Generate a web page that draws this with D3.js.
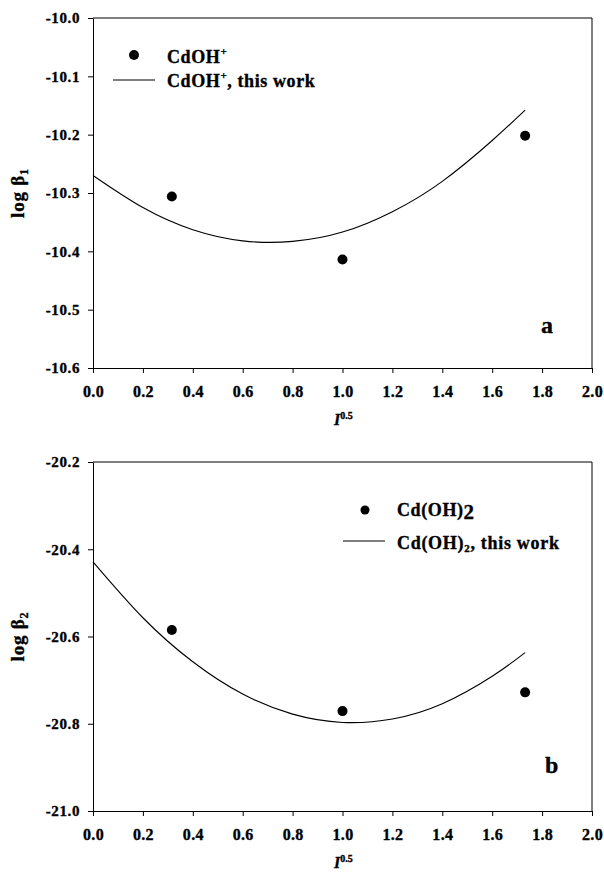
<!DOCTYPE html>
<meta charset="utf-8">
<script src="https://d3js.org/d3.v7.min.js"></script>
<style>
  body { margin: 0; background: #fff; }
  text { font-family: "Liberation Serif", "Times New Roman", serif; font-weight: bold; fill: #000;
         stroke: #000; stroke-width: 0.35px; }
</style>
<div id="viz"></div>
<script>

// data
var xTicks = [0.0, 0.2, 0.4, 0.6, 0.8, 1.0, 1.2, 1.4, 1.6, 1.8, 2.0];
var sqrtI = [0.316, 1.0, 1.732];
var beta1Lit = [-10.306, -10.414, -10.202];
var beta2Lit = [-20.585, -20.771, -20.728];

var fitX = [0.0, 0.2, 0.4, 0.6, 0.8, 1.0, 1.2, 1.4, 1.6, 1.732];
var beta1Fit = [-10.270, -10.325, -10.363, -10.382, -10.383, -10.367, -10.332, -10.280, -10.210, -10.158];
var beta2Fit = [-20.429, -20.557, -20.658, -20.732, -20.778, -20.797, -20.789, -20.754, -20.691, -20.637];

var beta1Ticks = [-10.6, -10.5, -10.4, -10.3, -10.2, -10.1, -10.0];
var beta2Ticks = [-21.0, -20.8, -20.6, -20.4, -20.2];

var width = 604, height = 872;

var svg = d3.select("#viz")
  .append("svg")
    .attr("width", width)
    .attr("height", height);

function drawPanel(opt) {
  var x = d3.scaleLinear().domain([0, 2]).range([93, 592]);
  var y = d3.scaleLinear().domain(d3.extent(opt.yTicks)).range([opt.bottom, opt.top]);
  var g = svg.append("g");

  // frame (top and right)
  g.append("path")
    .attr("d", "M" + x(0) + "," + y.range()[1] + "H" + x(2) + "V" + y.range()[0])
    .attr("fill", "none")
    .attr("stroke", "#000")
    .attr("stroke-width", 1);

  // X axis
  var xa = g.append("g")
    .attr("transform", "translate(0," + opt.bottom + ")")
    .call(d3.axisBottom(x).tickValues(xTicks).tickSize(5).tickSizeOuter(0)
      .tickFormat(function (d) { return d.toFixed(1); }));
  xa.selectAll("text").attr("dy", null).attr("y", 29)
    .style("font-size", "16px").style("letter-spacing", "0.3px")
    .style("font-family", "Liberation Serif").style("font-weight", "bold");

  // Y axis
  var ya = g.append("g")
    .attr("transform", "translate(" + x(0) + ",0)")
    .call(d3.axisLeft(y).tickValues(opt.yTicks).tickSize(5).tickSizeOuter(0)
      .tickFormat(function (d) { return d.toFixed(1); }));
  ya.selectAll("text").attr("x", -13)
    .style("font-size", "15px").style("letter-spacing", "0.6px")
    .style("font-family", "Liberation Serif").style("font-weight", "bold");
  g.selectAll(".domain").attr("stroke", "#000");

  // x label
  var xl = g.append("text")
    .attr("x", 334)
    .attr("y", opt.bottom + 57)
    .style("font-size", "16px");
  xl.append("tspan").style("font-style", "italic").text("I");
  xl.append("tspan").attr("dy", -6).style("font-size", "10px").text("0.5");

  // y label
  var yl = g.append("text")
    .attr("transform", "translate(24," + ((opt.top + opt.bottom) / 2) + ") rotate(-90)")
    .attr("text-anchor", "middle")
    .style("font-size", "19px")
    .style("letter-spacing", "0.8px");
  yl.append("tspan").text("log \u03b2");
  yl.append("tspan").attr("dy", 4).style("font-size", "12px").text(opt.sub);

  // fitted curve
  g.append("path")
    .datum(fitX.map(function (d, i) { return [d, opt.fit[i]]; }))
    .attr("fill", "none")
    .attr("stroke", "#000")
    .attr("stroke-width", 1.1)
    .attr("d", d3.line()
      .x(function (d) { return x(d[0]); })
      .y(function (d) { return y(d[1]); })
      .curve(d3.curveNatural));

  // literature points
  g.append("g")
    .selectAll("circle")
    .data(sqrtI.map(function (d, i) { return [d, opt.lit[i]]; }))
    .join("circle")
      .attr("cx", function (d) { return x(d[0]); })
      .attr("cy", function (d) { return y(d[1]); })
      .attr("r", 5)
      .attr("fill", "#000");

  // panel letter
  g.append("text")
    .attr("x", opt.letterX)
    .attr("y", opt.letterY)
    .style("font-size", "24px")
    .text(opt.letter);

  return g;
}

var gA = drawPanel({ top: 18, bottom: 368, yTicks: beta1Ticks, lit: beta1Lit, fit: beta1Fit,
  sub: "1", letter: "a", letterX: 541, letterY: 333 });
var gB = drawPanel({ top: 462, bottom: 811, yTicks: beta2Ticks, lit: beta2Lit, fit: beta2Fit,
  sub: "2", letter: "b", letterX: 545, letterY: 773 });

// legend a
gA.append("circle").attr("cx", 134).attr("cy", 55).attr("r", 5).attr("fill", "#000");
gA.append("line").attr("x1", 113).attr("x2", 155).attr("y1", 80).attr("y2", 80)
  .attr("stroke", "#000").attr("stroke-width", 1.1);
var la1 = gA.append("text").attr("x", 167).attr("y", 63)
  .style("font-size", "18px").style("letter-spacing", "0.6px");
la1.append("tspan").text("CdOH");
la1.append("tspan").attr("dy", -8).style("font-size", "11px").text("+");
var la2 = gA.append("text").attr("x", 167).attr("y", 87)
  .style("font-size", "18px").style("letter-spacing", "0.6px");
la2.append("tspan").text("CdOH");
la2.append("tspan").attr("dy", -8).style("font-size", "11px").text("+");
la2.append("tspan").attr("dy", 8).text(", this work");

// legend b
gB.append("circle").attr("cx", 365).attr("cy", 510).attr("r", 4.5).attr("fill", "#000");
gB.append("line").attr("x1", 343).attr("x2", 385).attr("y1", 541).attr("y2", 541)
  .attr("stroke", "#000").attr("stroke-width", 1.1);
var lb1 = gB.append("text").attr("x", 397).attr("y", 516)
  .style("font-size", "18px").style("letter-spacing", "0.6px");
lb1.append("tspan").text("Cd(OH)");
lb1.append("tspan").attr("dy", 3).style("font-size", "21px").text("2");
var lb2 = gB.append("text").attr("x", 397).attr("y", 549)
  .style("font-size", "18px").style("letter-spacing", "0.7px");
lb2.append("tspan").text("Cd(OH)");
lb2.append("tspan").attr("dy", 3).style("font-size", "11px").text("2");
lb2.append("tspan").attr("dy", -3).text(", this work");

</script>
